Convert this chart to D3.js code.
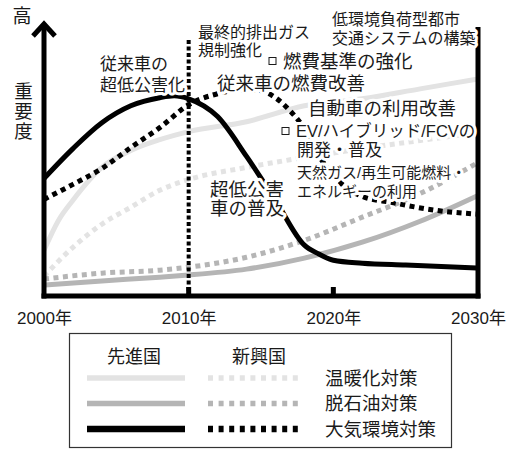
<!DOCTYPE html>
<html>
<head>
<meta charset="utf-8">
<script src="https://cdn.jsdelivr.net/npm/d3@7"></script>
<style>
  body { margin: 0; background: #fff; }
  text { font-family: "Liberation Sans", "Noto Sans CJK JP", sans-serif; fill: #1a1a1a; }
</style>
</head>
<body>
<svg id="chart" width="512" height="450"></svg>
<script>
// ---- data: [year, importance (0-100)] ----
const devWarming = [[2000,17.0],[2001,28.1],[2002,35.6],[2004,47.8],[2006,54.1],[2008,58.1],[2010,61.1],[2014,64.8],[2018,70.7],[2022,73.3],[2026,77.0],[2030,80.7]];
const emgWarming = [[2000,7.4],[2002,18.1],[2004,26.7],[2006,33.0],[2008,39.3],[2010,43.3],[2014,47.8],[2018,51.5],[2022,54.8],[2026,57.8],[2030,60.7]];
const devOil = [[2000,4.1],[2004,5.6],[2008,7.0],[2010,7.8],[2014,10.0],[2018,14.1],[2022,20.0],[2026,27.8],[2030,37.4]];
const emgOil = [[2000,6.3],[2004,8.5],[2008,9.6],[2010,10.7],[2014,14.4],[2018,20.7],[2022,29.3],[2026,38.1],[2030,49.6]];
const devAir = [[2000,43.7],[2002,54.8],[2004,64.4],[2006,70.7],[2008,73.7],[2009,74.4],[2010,73.3],[2012,66.7],[2014,51.9],[2016,35.6],[2018,18.9],[2019,15.6],[2020,13.3],[2022,12.2],[2025,11.5],[2030,10.4]];
const emgAir = [[2000,35.9],[2002,41.5],[2004,47.4],[2006,55.2],[2008,62.6],[2010,71.1],[2012,75.2],[2014,76.7],[2015,76.3],[2016,73.7],[2017,68.9],[2018,62.2],[2019,52.2],[2020,44.8],[2022,37.0],[2024,34.8],[2027,31.9],[2030,30.4]];

const tickYears = [2000, 2010, 2020, 2030];
const innerTicks = [2010, 2020];
const markerYear = 2010;
const groupLabels = ["先進国", "新興国"];
const measureLabels = ["温暖化対策", "脱石油対策", "大気環境対策"];
const axisTop = "高";
const axisTitle = "重要度";

const notes = [
  ["従来車の", "超低公害化"],
  ["最終的排出ガス", "規制強化"],
  ["低環境負荷型都市", "交通システムの構築"],
  ["燃費基準の強化"],
  ["従来車の燃費改善"],
  ["自動車の利用改善"],
  ["EV/ハイブリッド/FCVの"],
  ["開発・普及"],
  ["天然ガス/再生可能燃料・", "エネルギーの利用"],
  ["超低公害", "車の普及"]
];

// ---- layout ----
const noteLayout = [
  { x: 100, y: 64, size: 17, lh: 21 },
  { x: 198, y: 32, size: 16, lh: 18 },
  { x: 332, y: 19.5, size: 16, lh: 19 },
  { x: 283, y: 61, size: 18.5, lh: 20, box: true },
  { x: 217, y: 83.5, size: 18.5, lh: 20 },
  { x: 308, y: 108, size: 18.5, lh: 20 },
  { x: 296, y: 131, size: 16.5, lh: 20, box: true },
  { x: 297, y: 150.5, size: 17, lh: 20 },
  { x: 297, y: 172, size: 15, lh: 19 },
  { x: 210, y: 189, size: 18.5, lh: 19 }
];

const series = [
  { data: devWarming, color: "#e3e3e3", dotted: false },
  { data: emgWarming, color: "#e3e3e3", dotted: true },
  { data: devOil, color: "#b5b5b5", dotted: false },
  { data: emgOil, color: "#b5b5b5", dotted: true },
  { data: emgAir, color: "#000", dotted: true },
  { data: devAir, color: "#000", dotted: false }
];

const svg = d3.select("#chart");
const x = d3.scaleLinear().domain([2000, 2030]).range([44, 478]);
const y = d3.scaleLinear().domain([0, 100]).range([296, 27]);

const line = d3.line()
  .x(d => x(d[0]))
  .y(d => y(d[1]))
  .curve(d3.curveMonotoneX);

// curves
svg.append("g").selectAll("path")
  .data(series)
  .join("path")
  .attr("d", d => line(d.data))
  .attr("fill", "none")
  .attr("stroke", d => d.color)
  .attr("stroke-width", 5)
  .attr("stroke-dasharray", d => d.dotted ? "5,4.5" : null);

// dotted marker at 2010
svg.append("line")
  .attr("x1", x(markerYear)).attr("x2", x(markerYear))
  .attr("y1", 40).attr("y2", y(0))
  .attr("stroke", "#000").attr("stroke-width", 4)
  .attr("stroke-dasharray", "4,2.5");

// frame: left axis with arrow, bottom axis, right edge
const frame = svg.append("g").attr("stroke", "#000").attr("stroke-width", 5).attr("fill", "none");
frame.append("line").attr("x1", x(2000)).attr("x2", x(2000)).attr("y1", 24).attr("y2", y(0) + 2.5);
frame.append("line").attr("x1", x(2000) - 2.5).attr("x2", x(2030) + 2.5).attr("y1", y(0)).attr("y2", y(0));
frame.append("line").attr("x1", x(2030)).attr("x2", x(2030)).attr("y1", y(100)).attr("y2", y(0) + 2.5);
frame.append("path")
  .attr("d", `M${x(2000) - 11},36 L${x(2000)},24 L${x(2000) + 11},36`)
  .attr("stroke-linejoin", "miter");

// inner ticks
svg.append("g").selectAll("line")
  .data(innerTicks)
  .join("line")
  .attr("x1", d => x(d)).attr("x2", d => x(d))
  .attr("y1", y(0) - 9).attr("y2", y(0))
  .attr("stroke", "#000").attr("stroke-width", 5);

// year labels
const xAxis = d3.axisBottom(x)
  .tickValues(tickYears)
  .tickSize(0)
  .tickPadding(16)
  .tickFormat(d => d + "年");
const gx = svg.append("g").attr("transform", `translate(0,${y(0)})`).call(xAxis);
gx.select(".domain").remove();
gx.selectAll("text")
  .attr("font-family", "'Liberation Sans', 'Noto Sans CJK JP', sans-serif")
  .attr("font-size", 17)
  .attr("fill", "#1a1a1a");

// axis captions
svg.append("text").attr("x", 22).attr("y", 16)
  .attr("text-anchor", "middle").attr("dominant-baseline", "central")
  .attr("font-size", 19).text(axisTop);
svg.append("text")
  .attr("x", 22).attr("y", 82)
  .style("writing-mode", "vertical-rl")
  .style("text-orientation", "upright")
  .attr("letter-spacing", 1.2)
  .attr("font-size", 18.5)
  .text(axisTitle);

// annotations (multi-line notes as tspans)
notes.forEach((lines, i) => {
  const L = noteLayout[i];
  const g = svg.append("g");
  g.append("text")
    .attr("font-size", L.size)
    .attr("stroke", "#fff").attr("stroke-width", 6)
    .attr("stroke-linejoin", "round").attr("paint-order", "stroke")
    .selectAll("tspan")
    .data(lines)
    .join("tspan")
    .attr("x", L.x)
    .attr("y", (d, j) => L.y + j * L.lh)
    .attr("dominant-baseline", "central")
    .text(d => d);
  if (L.box) {
    const s = 7;
    g.append("rect")
      .attr("x", L.x - 14).attr("y", L.y - s / 2)
      .attr("width", s).attr("height", s)
      .attr("fill", "#fff").attr("stroke", "#1a1a1a").attr("stroke-width", 1);
  }
});

// legend
const lg = svg.append("g");
lg.append("rect").attr("x", 69.5).attr("y", 333.5).attr("width", 382).attr("height", 114)
  .attr("fill", "#fff").attr("stroke", "#333").attr("stroke-width", 1.2);
const colX = [[87, 185], [208, 302]];
const headX = [134, 259];
lg.selectAll("text.grp")
  .data(groupLabels)
  .join("text")
  .attr("class", "grp")
  .attr("x", (d, i) => headX[i])
  .attr("y", 357)
  .attr("text-anchor", "middle").attr("dominant-baseline", "central")
  .attr("font-size", 18)
  .text(d => d);
const legendColors = ["#e3e3e3", "#b5b5b5", "#000"];
const rowY = [378, 403.5, 429];
measureLabels.forEach((lab, i) => {
  lg.append("line")
    .attr("x1", colX[0][0]).attr("x2", colX[0][1])
    .attr("y1", rowY[i]).attr("y2", rowY[i])
    .attr("stroke", legendColors[i]).attr("stroke-width", i === 2 ? 6.5 : 5.5);
  lg.append("line")
    .attr("x1", colX[1][0]).attr("x2", colX[1][1])
    .attr("y1", rowY[i]).attr("y2", rowY[i])
    .attr("stroke", legendColors[i]).attr("stroke-width", i === 2 ? 6.5 : 5.5)
    .attr("stroke-dasharray", "5,5.6");
  lg.append("text")
    .attr("x", 325).attr("y", rowY[i])
    .attr("dominant-baseline", "central")
    .attr("font-size", 18.5)
    .text(lab);
});
</script>
</body>
</html>
